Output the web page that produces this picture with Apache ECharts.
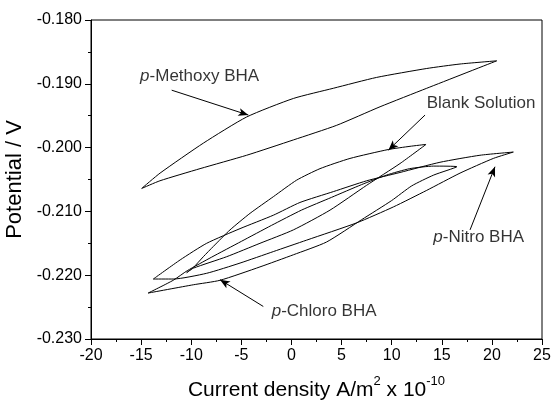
<!DOCTYPE html>
<html>
<head>
<meta charset="utf-8">
<script src="https://cdn.jsdelivr.net/npm/echarts@6/dist/echarts.min.js"></script>
<style>
  html, body { margin: 0; padding: 0; background: #fff; }
  #chart { width: 552px; height: 401px; }
</style>
</head>
<body>
<div id="chart"></div>
<script>
// x ticks / y ticks
const xTicks = [-20, 25, 5]
const yTicks = [-0.23, -0.18, 0.01]

// each loop: left tip -> upper branch -> right tip -> lower branch -> left tip
const methoxy = [
  [-14.94, -0.2064], [-13.11, -0.2040], [-8.79, -0.1993], [-4.47, -0.1952], [0.19, -0.1923],
  [4.18, -0.1907], [8.5, -0.1890], [13.5, -0.1876], [16.82, -0.1869], [20.48, -0.1864],
  [13.5, -0.1907], [8.84, -0.1936], [4.52, -0.1965], [0.19, -0.1988], [-4.47, -0.2012],
  [-9.12, -0.2033], [-13.12, -0.2052], [-14.94, -0.2064]
]
const blank = [
  [-10.45, -0.2196], [-9.79, -0.2188], [-8.79, -0.2171], [-7.8, -0.2155], [-6.13, -0.2129],
  [-4.13, -0.2103], [-1.81, -0.2077], [0.52, -0.2051], [2.85, -0.2033], [5.84, -0.2017],
  [9.67, -0.2003], [11.83, -0.1998], [13.43, -0.1995],
  [10.83, -0.2025], [7.51, -0.2059], [3.85, -0.2098], [0.19, -0.2129], [-3.14, -0.2150],
  [-6.46, -0.2171], [-9.79, -0.2189], [-10.45, -0.2196]
]
const nitro = [
  [-13.78, -0.2206], [-11.1, -0.2176], [-8.46, -0.2150], [-5.13, -0.2127], [-1.81, -0.2106],
  [0.85, -0.2086], [4.18, -0.2069], [7.51, -0.2052], [10.83, -0.2039], [14.82, -0.2023],
  [18.81, -0.2012], [22.14, -0.2007],
  [20.14, -0.2017], [16.82, -0.2040], [13.5, -0.2067], [10.17, -0.2093], [6.5, -0.2118],
  [1.52, -0.2145], [-1.81, -0.2163], [-5.13, -0.2181], [-8.46, -0.2197], [-11.8, -0.2206],
  [-13.78, -0.2206]
]
const chloro = [
  [-14.3, -0.2228], [-11.8, -0.2208], [-10.4, -0.2193], [-8, -0.2172], [-5, -0.2147],
  [-2, -0.2122], [1, -0.2098], [4, -0.2078], [7, -0.2058], [9.5, -0.2043], [11.8, -0.2033],
  [14.2, -0.2029], [16.5, -0.2030],
  [14.2, -0.2043], [12, -0.2060], [10, -0.2083], [7, -0.2113], [3.5, -0.2148], [0.19, -0.2168],
  [-3.14, -0.2187], [-7.13, -0.2208], [-9.79, -0.2215], [-14.3, -0.2228]
]

// annotations: text anchor (left, middle) and arrow from -> to
const noteText = ['{i|p}-Methoxy BHA', 'Blank Solution', '{i|p}-Nitro BHA', '{i|p}-Chloro BHA']
const notePos = [[-15.1, -0.1888], [13.5, -0.1930], [14.16, -0.2140], [-1.97, -0.2257]]
const arrowFrom = [[-11.95, -0.1910], [13.33, -0.1949], [17.82, -0.2129], [-2.81, -0.2249]]
const arrowTo = [[-4.3, -0.1949], [9.67, -0.2004], [20.31, -0.2030], [-7.13, -0.2207]]

const font = '"Liberation Sans", Arial, sans-serif'
const chart = echarts.init(document.getElementById('chart'))

const loopSeries = [methoxy, blank, nitro, chloro].map(d => ({
  type: 'line',
  data: d,
  showSymbol: false,
  smooth: 0.2,
  lineStyle: { color: '#000', width: 1 },
  silent: true
}))

chart.setOption({
  animation: false,
  grid: {
    left: 91, right: 10, top: 20, bottom: 62,
    containLabel: false, outerBoundsMode: 'none',
    show: true, borderColor: '#000', borderWidth: 1
  },
  xAxis: {
    type: 'value',
    min: xTicks[0], max: xTicks[1], interval: xTicks[2],
    name: '{a|Current density A/m}{s|2}{a| x 10}{s|-10}',
    nameLocation: 'middle',
    nameGap: 36,
    nameTextStyle: {
      rich: {
        a: { fontFamily: font, fontSize: 21, color: '#000', verticalAlign: 'bottom', lineHeight: 26 },
        s: { fontFamily: font, fontSize: 13, color: '#000', verticalAlign: 'top', lineHeight: 26 }
      }
    },
    axisLine: { onZero: false, lineStyle: { color: '#000', width: 1 } },
    axisTick: { length: 6, lineStyle: { color: '#000' } },
    minorTick: { show: true, splitNumber: 2, length: 3, lineStyle: { color: '#000' } },
    splitLine: { show: false },
    axisLabel: { color: '#000', fontFamily: font, fontSize: 16, margin: 9 }
  },
  yAxis: {
    type: 'value',
    min: yTicks[0], max: yTicks[1], interval: yTicks[2],
    name: 'Potential / V',
    nameLocation: 'middle',
    nameGap: 56,
    nameTextStyle: { fontFamily: font, fontSize: 22, color: '#000' },
    axisLine: { show: true, onZero: false, lineStyle: { color: '#000', width: 1 } },
    axisTick: { show: true, length: 6, lineStyle: { color: '#000' } },
    minorTick: { show: true, splitNumber: 2, length: 3, lineStyle: { color: '#000' } },
    splitLine: { show: false },
    axisLabel: { color: '#000', fontFamily: font, fontSize: 16, margin: 9, formatter: v => v.toFixed(3) }
  },
  series: loopSeries.concat([{
    type: 'scatter',
    silent: true,
    symbolSize: 0,
    data: notePos.map((p, i) => ({ value: p, name: noteText[i] })),
    label: {
      show: true,
      position: 'right',
      distance: 0,
      formatter: p => p.name,
      color: '#000',
      fontFamily: font,
      fontSize: 17,
      rich: { i: { fontStyle: 'italic', fontFamily: font, fontSize: 17, color: '#000' } }
    },
    markLine: {
      silent: true,
      symbol: ['none', 'arrow'],
      symbolSize: [6, 10],
      label: { show: false },
      lineStyle: { color: '#000', width: 1, type: 'solid' },
      data: arrowFrom.map((f, i) => [{ coord: f }, { coord: arrowTo[i] }])
    }
  }])
})
</script>
</body>
</html>
